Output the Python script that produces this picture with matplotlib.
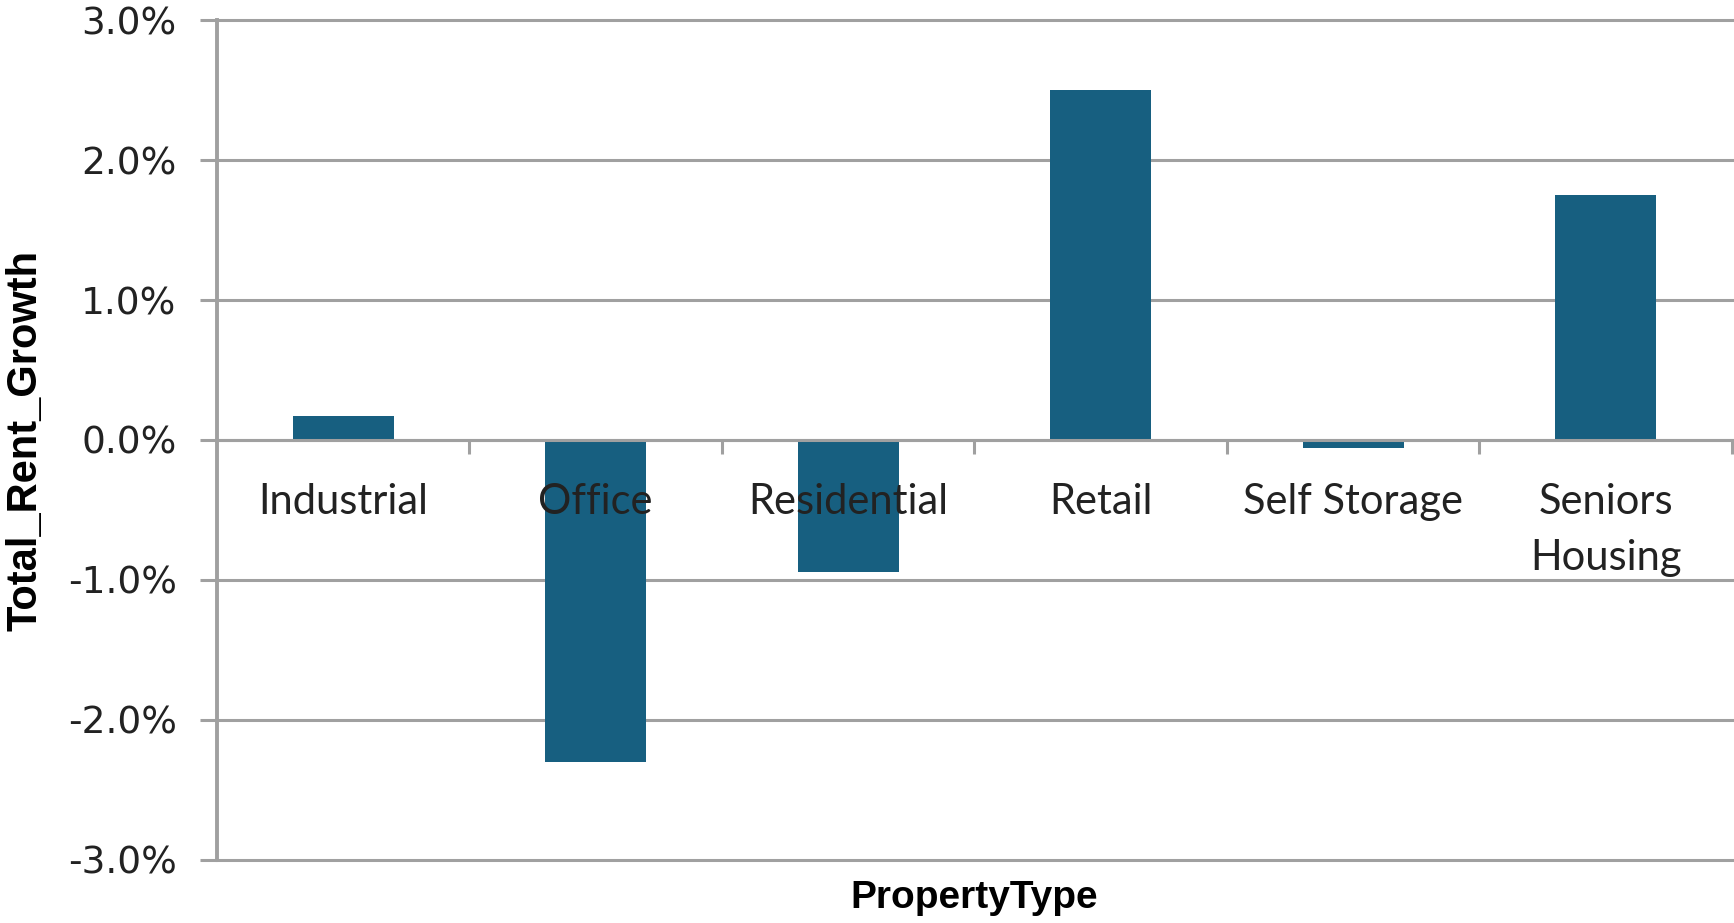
import numpy as np
import matplotlib
matplotlib.use("Agg")
import matplotlib.pyplot as plt
from matplotlib.ticker import FuncFormatter, FixedLocator

# data
property_types = ["Industrial", "Office", "Residential", "Retail",
                  "Self Storage", "Seniors\nHousing"]
rent_growth = [0.0017, -0.0230, -0.0094, 0.0250, -0.0006, 0.0175]
y_ticks = [-0.03, -0.02, -0.01, 0.0, 0.01, 0.02, 0.03]

BAR_COLOR  = "#175F80"
GRID_COLOR = "#A0A0A0"

fig = plt.figure(figsize=(17.34, 9.23), dpi=100)
ax = fig.add_axes([0.1251, 0.0683, 0.8737, 0.9100])

x = np.arange(len(property_types))

# gridlines under the bars, tick labels above them
for yv in y_ticks:
    ax.axhline(yv, color=GRID_COLOR, lw=2.2, zorder=0.5, clip_on=False)

ax.bar(x, rent_growth, width=0.4, color=BAR_COLOR, zorder=1)

ax.set_xlim(-0.5, len(property_types) - 0.5)
ax.set_ylim(-0.03, 0.03)

ax.spines['top'].set_visible(False)
ax.spines['right'].set_visible(False)
ax.spines['bottom'].set_position(('data', 0))
ax.spines['bottom'].set_color(GRID_COLOR)
ax.spines['bottom'].set_linewidth(2.2)
ax.spines['left'].set_color(GRID_COLOR)
ax.spines['left'].set_linewidth(2.8)

ax.set_yticks(y_ticks)
ax.yaxis.set_major_formatter(FuncFormatter(lambda v, _: f"{v*100:.1f}%"))
ax.tick_params(axis='y', length=12, width=2.2, color=GRID_COLOR,
               labelsize=27, labelcolor="#222222", pad=17)
for lab in ax.get_yticklabels():
    lab.set_family("DejaVu Sans")

ax.set_xticks(x)
ax.set_xticklabels(property_types, family="Lato", fontsize=30,
                   color="#222222", linespacing=1.58, va='top')
ax.xaxis.set_minor_locator(FixedLocator(np.arange(0.5, len(property_types), 1.0)))
ax.tick_params(axis='x', which='major', length=0, pad=31)
ax.tick_params(axis='x', which='minor', length=10, width=2.2,
               color=GRID_COLOR, direction='out')

ax.set_xlabel("PropertyType", family="Liberation Sans", fontweight='bold',
              fontsize=28, labelpad=0)
ax.xaxis.set_label_coords(0.5, -0.024)
ax.set_ylabel("Total_Rent_Growth", family="Liberation Sans", fontweight='bold',
              fontsize=30)
ax.yaxis.set_label_coords(-0.113, 0.5)

fig.savefig("out.png", dpi=100)
